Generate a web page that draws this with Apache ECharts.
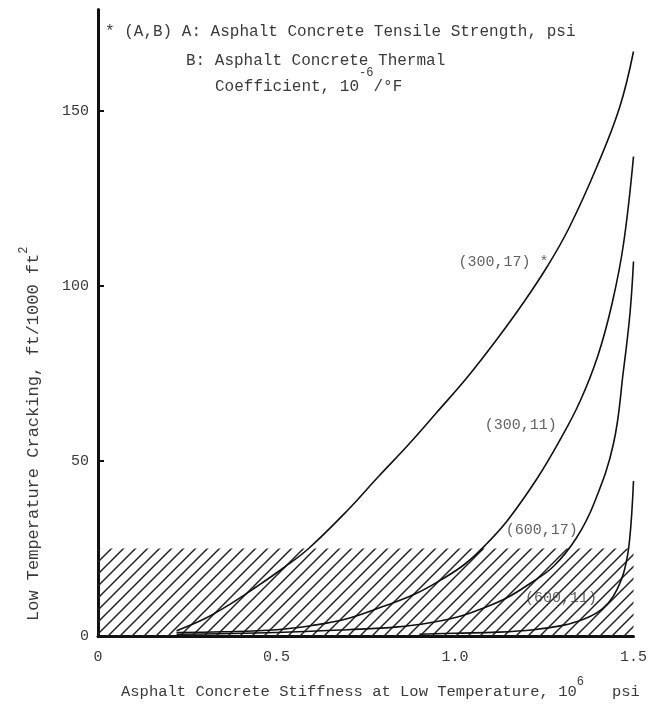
<!DOCTYPE html>
<html>
<head>
<meta charset="utf-8">
<script src="https://cdn.jsdelivr.net/npm/echarts@6/dist/echarts.min.js"></script>
<style>
  html, body { margin: 0; padding: 0; background: #ffffff; }
  #chart { width: 650px; height: 706px; }
</style>
</head>
<body>
<div id="chart"></div>
<script>
// Axis ranges and ticks
const xMin = 0, xMax = 1.5, xStep = 0.5;
const yMin = 0, yMax = 179, yStep = 50;
const xTickLabels = ['0', '0.5', '1.0', '1.5'];

// Tolerable cracking band (shaded), ft/1000 ft^2
const hatchTop = 25;

// (A,B) = (tensile strength psi, thermal coefficient 1e-6/°F)
const c300_17_x = [0.22, 0.30, 0.367, 0.443, 0.52, 0.59, 0.70, 0.785, 0.868, 0.95, 1.035, 1.119, 1.19, 1.258, 1.319, 1.397, 1.461, 1.50];
const c300_17_y = [1.5, 5.0, 8.9, 14.0, 19.5, 25.0, 36.0, 45.5, 54.5, 64.0, 74.0, 85.0, 95.0, 105.5, 116.5, 134.0, 151.0, 167.0];

const c300_11_x = [0.22, 0.35, 0.50, 0.60, 0.70, 0.80, 0.888, 0.96, 1.027, 1.09, 1.147, 1.23, 1.294, 1.35, 1.40, 1.44, 1.472, 1.50];
const c300_11_y = [1.0, 1.2, 1.8, 3.0, 5.0, 8.5, 12.0, 16.0, 20.5, 26.5, 33.0, 45.0, 56.0, 67.0, 80.0, 95.0, 112.0, 137.0];

const c600_17_x = [0.22, 0.50, 0.70, 0.84, 0.93, 1.007, 1.08, 1.147, 1.21, 1.277, 1.34, 1.39, 1.444, 1.472, 1.49, 1.50];
const c600_17_y = [0.5, 1.0, 1.8, 2.6, 3.8, 5.4, 8.0, 11.0, 15.0, 20.0, 28.0, 38.0, 55.0, 76.0, 92.0, 107.0];

const c600_11_x = [0.90, 1.00, 1.119, 1.22, 1.305, 1.36, 1.397, 1.43, 1.453, 1.475, 1.489, 1.50];
const c600_11_y = [0.5, 0.8, 1.1, 1.8, 3.1, 4.8, 6.6, 9.5, 13.1, 19.0, 27.4, 44.3];

// Curve captions: text and anchor in data units
const captionText = ['(300,17) *', '(300,11)', '(600,17)', '(600,11)'];
const captionX = [1.136, 1.184, 1.243, 1.297];
const captionY = [106.9, 60.3, 30.3, 10.9];

const FONT = '"Liberation Mono", "DejaVu Sans Mono", monospace';
const INK = '#111';
const TXT = '#3a3a3a';

function pairs(xs, ys) { return xs.map((x, i) => [x, ys[i]]); }

// Diagonal hatch tile
function hatchTile() {
  const s = 12;
  const c = document.createElement('canvas');
  c.width = s; c.height = s;
  const g = c.getContext('2d');
  g.strokeStyle = '#222';
  g.lineWidth = 1.5;
  g.beginPath();
  g.moveTo(0, s); g.lineTo(s, 0);
  g.moveTo(-2, 2); g.lineTo(2, -2);
  g.moveTo(s - 2, s + 2); g.lineTo(s + 2, s - 2);
  g.stroke();
  return c;
}

function curve(name, xs, ys, extra) {
  return Object.assign({
    name: name,
    type: 'line',
    data: pairs(xs, ys),
    showSymbol: false,
    smooth: 0.4,
    silent: true,
    lineStyle: { color: INK, width: 1.6 },
    z: 3
  }, extra || {});
}

const chart = echarts.init(document.getElementById('chart'), null, { renderer: 'canvas' });

chart.setOption({
  animation: false,
  backgroundColor: '#ffffff',
  grid: { left: 98, right: 13, top: 9.5, bottom: 70, containLabel: false },
  xAxis: {
    type: 'value', min: xMin, max: xMax, interval: xStep,
    axisLine: { show: true, onZero: false, lineStyle: { color: INK, width: 3 } },
    axisTick: { show: false },
    splitLine: { show: false },
    axisLabel: {
      color: TXT, fontFamily: FONT, fontSize: 15, margin: 14,
      formatter: (v) => xTickLabels[Math.round(v / xStep)]
    }
  },
  yAxis: {
    type: 'value', min: yMin, max: yMax, interval: yStep,
    axisLine: { show: true, onZero: false, lineStyle: { color: INK, width: 3 } },
    axisTick: { show: true, inside: true, length: 6, lineStyle: { color: INK, width: 2 } },
    splitLine: { show: false },
    axisLabel: {
      color: TXT, fontFamily: FONT, fontSize: 15, margin: 9,
      showMaxLabel: false
    }
  },
  series: [
    curve('(300,17)', c300_17_x, c300_17_y, {
      markArea: {
        silent: true,
        itemStyle: { color: { image: hatchTile(), repeat: 'repeat' } },
        label: { show: false },
        data: [[{ coord: [xMin, 0] }, { coord: [xMax, hatchTop] }]]
      }
    }),
    curve('(300,11)', c300_11_x, c300_11_y),
    curve('(600,17)', c600_17_x, c600_17_y),
    curve('(600,11)', c600_11_x, c600_11_y),
    {
      name: 'captions',
      type: 'scatter',
      symbolSize: 0,
      silent: true,
      z: 5,
      data: captionText.map((t, i) => ({ value: [captionX[i], captionY[i]], name: t })),
      label: {
        show: true, position: 'inside',
        formatter: (p) => p.name,
        color: TXT, fontFamily: FONT, fontSize: 15
      }
    }
  ],
  graphic: [
    {
      type: 'text', left: 105, top: 24,
      style: {
        text: '* (A,B) A: Asphalt Concrete Tensile Strength, psi',
        font: '16px ' + FONT, fill: TXT
      }
    },
    {
      type: 'text', left: 186, top: 53,
      style: {
        text: 'B: Asphalt Concrete Thermal',
        font: '16px ' + FONT, fill: TXT
      }
    },
    {
      type: 'text', left: 215, top: 67,
      style: {
        text: '{n|Coefficient, 10}{s|-6}{n|/°F}',
        fill: TXT,
        rich: {
          n: { fontFamily: FONT, fontSize: 16, color: TXT, lineHeight: 28, verticalAlign: 'bottom' },
          s: { fontFamily: FONT, fontSize: 12, color: TXT, lineHeight: 28, verticalAlign: 'top' }
        }
      }
    },
    {
      type: 'text', left: 121, top: 676,
      style: {
        text: '{n|Asphalt Concrete Stiffness at Low Temperature, 10}{s|6}{n|   psi}',
        fill: TXT,
        rich: {
          n: { fontFamily: FONT, fontSize: 15.5, color: TXT, lineHeight: 24, verticalAlign: 'bottom' },
          s: { fontFamily: FONT, fontSize: 12, color: TXT, lineHeight: 24, verticalAlign: 'top' }
        }
      }
    },
    {
      type: 'text', x: 30, y: 621, rotation: Math.PI / 2,
      style: {
        text: '{n|Low Temperature Cracking, ft/1000 ft}{s|2}',
        fill: TXT, align: 'left', verticalAlign: 'middle',
        rich: {
          n: { fontFamily: FONT, fontSize: 17, color: TXT, lineHeight: 24, verticalAlign: 'bottom' },
          s: { fontFamily: FONT, fontSize: 12, color: TXT, lineHeight: 24, verticalAlign: 'top' }
        }
      }
    }
  ]
});
</script>
</body>
</html>
